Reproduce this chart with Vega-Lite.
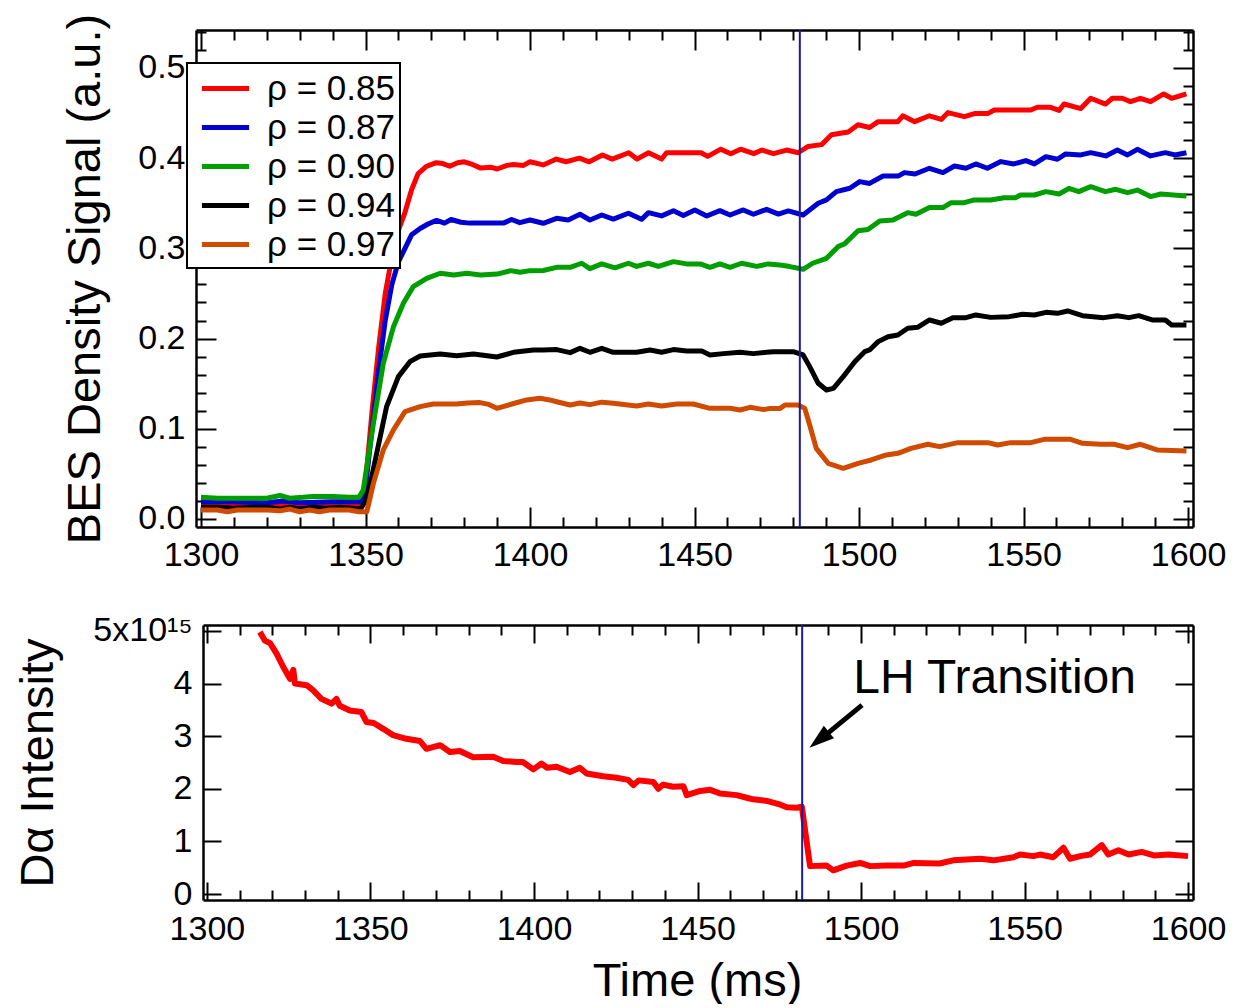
{
"$schema": "https://vega.github.io/schema/vega-lite/v6.json",
"padding": {"left": 14, "top": 13, "right": 10, "bottom": 0},
"spacing": 31,
"config": {
  "font": "Liberation Sans",
  "view": {"stroke": null},
  "axis": {"domainColor": "#000", "domainWidth": 2.5, "tickColor": "#000", "tickWidth": 2, "labelFont": "Liberation Sans", "labelFontSize": 34, "labelColor": "#000", "titleFont": "Liberation Sans", "titleFontSize": 47, "titleFontWeight": "normal", "titleColor": "#000", "grid": false, "labelFlush": false, "labelOverlap": false, "labelBound": false},
  "legend": {"labelFont": "Liberation Sans"}
},
"datasets": {
  "bes": [
    {"t":1300,"v":0.016,"rho":"ρ = 0.85"},{"t":1305,"v":0.015,"rho":"ρ = 0.85"},{"t":1310,"v":0.016,"rho":"ρ = 0.85"},{"t":1315,"v":0.015,"rho":"ρ = 0.85"},{"t":1320,"v":0.014,"rho":"ρ = 0.85"},{"t":1325,"v":0.017,"rho":"ρ = 0.85"},{"t":1330,"v":0.015,"rho":"ρ = 0.85"},{"t":1335,"v":0.016,"rho":"ρ = 0.85"},{"t":1340,"v":0.016,"rho":"ρ = 0.85"},{"t":1345,"v":0.015,"rho":"ρ = 0.85"},{"t":1348.5,"v":0.016,"rho":"ρ = 0.85"},{"t":1350,"v":0.04,"rho":"ρ = 0.85"},{"t":1352,"v":0.12,"rho":"ρ = 0.85"},{"t":1354,"v":0.19,"rho":"ρ = 0.85"},{"t":1356,"v":0.25,"rho":"ρ = 0.85"},{"t":1358,"v":0.29,"rho":"ρ = 0.85"},{"t":1360,"v":0.32,"rho":"ρ = 0.85"},{"t":1362,"v":0.34,"rho":"ρ = 0.85"},{"t":1364,"v":0.365,"rho":"ρ = 0.85"},{"t":1366,"v":0.383,"rho":"ρ = 0.85"},{"t":1368.5,"v":0.391,"rho":"ρ = 0.85"},{"t":1371.5,"v":0.395,"rho":"ρ = 0.85"},{"t":1373.5,"v":0.394,"rho":"ρ = 0.85"},{"t":1375.6,"v":0.391,"rho":"ρ = 0.85"},{"t":1378,"v":0.395,"rho":"ρ = 0.85"},{"t":1380,"v":0.396,"rho":"ρ = 0.85"},{"t":1382.5,"v":0.393,"rho":"ρ = 0.85"},{"t":1385,"v":0.389,"rho":"ρ = 0.85"},{"t":1388,"v":0.39,"rho":"ρ = 0.85"},{"t":1390,"v":0.388,"rho":"ρ = 0.85"},{"t":1393,"v":0.392,"rho":"ρ = 0.85"},{"t":1395,"v":0.393,"rho":"ρ = 0.85"},{"t":1398,"v":0.392,"rho":"ρ = 0.85"},{"t":1400,"v":0.396,"rho":"ρ = 0.85"},{"t":1404,"v":0.3925,"rho":"ρ = 0.85"},{"t":1408,"v":0.399,"rho":"ρ = 0.85"},{"t":1411,"v":0.396,"rho":"ρ = 0.85"},{"t":1415,"v":0.4,"rho":"ρ = 0.85"},{"t":1418,"v":0.396,"rho":"ρ = 0.85"},{"t":1422,"v":0.4035,"rho":"ρ = 0.85"},{"t":1425,"v":0.399,"rho":"ρ = 0.85"},{"t":1430,"v":0.406,"rho":"ρ = 0.85"},{"t":1432.5,"v":0.399,"rho":"ρ = 0.85"},{"t":1436,"v":0.406,"rho":"ρ = 0.85"},{"t":1440,"v":0.399,"rho":"ρ = 0.85"},{"t":1441.5,"v":0.406,"rho":"ρ = 0.85"},{"t":1452,"v":0.406,"rho":"ρ = 0.85"},{"t":1454,"v":0.402,"rho":"ρ = 0.85"},{"t":1458,"v":0.41,"rho":"ρ = 0.85"},{"t":1461,"v":0.405,"rho":"ρ = 0.85"},{"t":1464,"v":0.41,"rho":"ρ = 0.85"},{"t":1468,"v":0.405,"rho":"ρ = 0.85"},{"t":1470.5,"v":0.409,"rho":"ρ = 0.85"},{"t":1474,"v":0.405,"rho":"ρ = 0.85"},{"t":1478,"v":0.409,"rho":"ρ = 0.85"},{"t":1481.5,"v":0.406,"rho":"ρ = 0.85"},{"t":1484.5,"v":0.413,"rho":"ρ = 0.85"},{"t":1488.6,"v":0.415,"rho":"ρ = 0.85"},{"t":1491.6,"v":0.426,"rho":"ρ = 0.85"},{"t":1496.7,"v":0.429,"rho":"ρ = 0.85"},{"t":1499.7,"v":0.437,"rho":"ρ = 0.85"},{"t":1503.2,"v":0.434,"rho":"ρ = 0.85"},{"t":1505.8,"v":0.4405,"rho":"ρ = 0.85"},{"t":1511.8,"v":0.4405,"rho":"ρ = 0.85"},{"t":1513.3,"v":0.447,"rho":"ρ = 0.85"},{"t":1516.9,"v":0.4405,"rho":"ρ = 0.85"},{"t":1521.4,"v":0.447,"rho":"ρ = 0.85"},{"t":1525,"v":0.443,"rho":"ρ = 0.85"},{"t":1527,"v":0.4505,"rho":"ρ = 0.85"},{"t":1532,"v":0.446,"rho":"ρ = 0.85"},{"t":1535.1,"v":0.4494,"rho":"ρ = 0.85"},{"t":1539.1,"v":0.4494,"rho":"ρ = 0.85"},{"t":1541.1,"v":0.4534,"rho":"ρ = 0.85"},{"t":1552.2,"v":0.4534,"rho":"ρ = 0.85"},{"t":1554.2,"v":0.4564,"rho":"ρ = 0.85"},{"t":1558.2,"v":0.4564,"rho":"ρ = 0.85"},{"t":1560.8,"v":0.453,"rho":"ρ = 0.85"},{"t":1562.3,"v":0.4601,"rho":"ρ = 0.85"},{"t":1567.4,"v":0.455,"rho":"ρ = 0.85"},{"t":1570.4,"v":0.4664,"rho":"ρ = 0.85"},{"t":1574.9,"v":0.46,"rho":"ρ = 0.85"},{"t":1577,"v":0.4664,"rho":"ρ = 0.85"},{"t":1580,"v":0.4664,"rho":"ρ = 0.85"},{"t":1582.5,"v":0.4627,"rho":"ρ = 0.85"},{"t":1585.5,"v":0.4664,"rho":"ρ = 0.85"},{"t":1588.6,"v":0.4627,"rho":"ρ = 0.85"},{"t":1592.6,"v":0.4712,"rho":"ρ = 0.85"},{"t":1595,"v":0.4664,"rho":"ρ = 0.85"},{"t":1599.5,"v":0.4712,"rho":"ρ = 0.85"},

    {"t":1300,"v":0.019,"rho":"ρ = 0.87"},{"t":1310,"v":0.019,"rho":"ρ = 0.87"},{"t":1320,"v":0.018,"rho":"ρ = 0.87"},{"t":1325,"v":0.02,"rho":"ρ = 0.87"},{"t":1330,"v":0.018,"rho":"ρ = 0.87"},{"t":1340,"v":0.019,"rho":"ρ = 0.87"},{"t":1348.5,"v":0.019,"rho":"ρ = 0.87"},{"t":1350,"v":0.035,"rho":"ρ = 0.87"},{"t":1352,"v":0.1,"rho":"ρ = 0.87"},{"t":1354,"v":0.165,"rho":"ρ = 0.87"},{"t":1356,"v":0.22,"rho":"ρ = 0.87"},{"t":1358,"v":0.26,"rho":"ρ = 0.87"},{"t":1360,"v":0.285,"rho":"ρ = 0.87"},{"t":1362,"v":0.3,"rho":"ρ = 0.87"},{"t":1364,"v":0.315,"rho":"ρ = 0.87"},{"t":1366.6,"v":0.322,"rho":"ρ = 0.87"},{"t":1369,"v":0.327,"rho":"ρ = 0.87"},{"t":1371.6,"v":0.331,"rho":"ρ = 0.87"},{"t":1374,"v":0.328,"rho":"ρ = 0.87"},{"t":1376,"v":0.332,"rho":"ρ = 0.87"},{"t":1379,"v":0.329,"rho":"ρ = 0.87"},{"t":1381.7,"v":0.328,"rho":"ρ = 0.87"},{"t":1386,"v":0.328,"rho":"ρ = 0.87"},{"t":1391.9,"v":0.328,"rho":"ρ = 0.87"},{"t":1394.4,"v":0.332,"rho":"ρ = 0.87"},{"t":1396.9,"v":0.3285,"rho":"ρ = 0.87"},{"t":1400,"v":0.3315,"rho":"ρ = 0.87"},{"t":1404,"v":0.3278,"rho":"ρ = 0.87"},{"t":1408.1,"v":0.3333,"rho":"ρ = 0.87"},{"t":1411.6,"v":0.3315,"rho":"ρ = 0.87"},{"t":1415.2,"v":0.3378,"rho":"ρ = 0.87"},{"t":1418.2,"v":0.3315,"rho":"ρ = 0.87"},{"t":1421.8,"v":0.337,"rho":"ρ = 0.87"},{"t":1425.3,"v":0.3325,"rho":"ρ = 0.87"},{"t":1429.9,"v":0.3389,"rho":"ρ = 0.87"},{"t":1433.9,"v":0.3322,"rho":"ρ = 0.87"},{"t":1436,"v":0.3396,"rho":"ρ = 0.87"},{"t":1440,"v":0.336,"rho":"ρ = 0.87"},{"t":1443.6,"v":0.3418,"rho":"ρ = 0.87"},{"t":1446.6,"v":0.3365,"rho":"ρ = 0.87"},{"t":1450.1,"v":0.3426,"rho":"ρ = 0.87"},{"t":1453.7,"v":0.3359,"rho":"ρ = 0.87"},{"t":1457.7,"v":0.3418,"rho":"ρ = 0.87"},{"t":1460.8,"v":0.337,"rho":"ρ = 0.87"},{"t":1464.8,"v":0.3426,"rho":"ρ = 0.87"},{"t":1467.9,"v":0.3378,"rho":"ρ = 0.87"},{"t":1471.9,"v":0.3433,"rho":"ρ = 0.87"},{"t":1475.5,"v":0.338,"rho":"ρ = 0.87"},{"t":1478.5,"v":0.3415,"rho":"ρ = 0.87"},{"t":1483,"v":0.337,"rho":"ρ = 0.87"},{"t":1487.6,"v":0.35,"rho":"ρ = 0.87"},{"t":1490.1,"v":0.3537,"rho":"ρ = 0.87"},{"t":1493.1,"v":0.3629,"rho":"ρ = 0.87"},{"t":1497.2,"v":0.3666,"rho":"ρ = 0.87"},{"t":1500.2,"v":0.374,"rho":"ρ = 0.87"},{"t":1503.2,"v":0.372,"rho":"ρ = 0.87"},{"t":1507.3,"v":0.3803,"rho":"ρ = 0.87"},{"t":1512,"v":0.3803,"rho":"ρ = 0.87"},{"t":1513.8,"v":0.384,"rho":"ρ = 0.87"},{"t":1517,"v":0.3825,"rho":"ρ = 0.87"},{"t":1521.4,"v":0.3888,"rho":"ρ = 0.87"},{"t":1525.5,"v":0.384,"rho":"ρ = 0.87"},{"t":1529,"v":0.3913,"rho":"ρ = 0.87"},{"t":1532.5,"v":0.3888,"rho":"ρ = 0.87"},{"t":1535.5,"v":0.3936,"rho":"ρ = 0.87"},{"t":1539,"v":0.3888,"rho":"ρ = 0.87"},{"t":1543.1,"v":0.3962,"rho":"ρ = 0.87"},{"t":1547,"v":0.3936,"rho":"ρ = 0.87"},{"t":1550.7,"v":0.3973,"rho":"ρ = 0.87"},{"t":1553.3,"v":0.3936,"rho":"ρ = 0.87"},{"t":1556.8,"v":0.4017,"rho":"ρ = 0.87"},{"t":1560.3,"v":0.3988,"rho":"ρ = 0.87"},{"t":1562.8,"v":0.4047,"rho":"ρ = 0.87"},{"t":1567.4,"v":0.4036,"rho":"ρ = 0.87"},{"t":1570.4,"v":0.4061,"rho":"ρ = 0.87"},{"t":1575,"v":0.4025,"rho":"ρ = 0.87"},{"t":1578.5,"v":0.4091,"rho":"ρ = 0.87"},{"t":1581.6,"v":0.4036,"rho":"ρ = 0.87"},{"t":1584.6,"v":0.4098,"rho":"ρ = 0.87"},{"t":1588.6,"v":0.4025,"rho":"ρ = 0.87"},{"t":1593.1,"v":0.4061,"rho":"ρ = 0.87"},{"t":1596,"v":0.4036,"rho":"ρ = 0.87"},{"t":1599.5,"v":0.4061,"rho":"ρ = 0.87"},

    {"t":1300,"v":0.024,"rho":"ρ = 0.90"},{"t":1305,"v":0.023,"rho":"ρ = 0.90"},{"t":1310,"v":0.023,"rho":"ρ = 0.90"},{"t":1315,"v":0.023,"rho":"ρ = 0.90"},{"t":1320,"v":0.023,"rho":"ρ = 0.90"},{"t":1324,"v":0.026,"rho":"ρ = 0.90"},{"t":1327,"v":0.023,"rho":"ρ = 0.90"},{"t":1331,"v":0.024,"rho":"ρ = 0.90"},{"t":1334,"v":0.025,"rho":"ρ = 0.90"},{"t":1340,"v":0.025,"rho":"ρ = 0.90"},{"t":1345,"v":0.024,"rho":"ρ = 0.90"},{"t":1348,"v":0.024,"rho":"ρ = 0.90"},{"t":1349.3,"v":0.032,"rho":"ρ = 0.90"},{"t":1352.4,"v":0.106,"rho":"ρ = 0.90"},{"t":1355.4,"v":0.1726,"rho":"ρ = 0.90"},{"t":1358.5,"v":0.2132,"rho":"ρ = 0.90"},{"t":1361.5,"v":0.2391,"rho":"ρ = 0.90"},{"t":1364.5,"v":0.2576,"rho":"ρ = 0.90"},{"t":1368.6,"v":0.2668,"rho":"ρ = 0.90"},{"t":1372.7,"v":0.2724,"rho":"ρ = 0.90"},{"t":1376.8,"v":0.2705,"rho":"ρ = 0.90"},{"t":1380.8,"v":0.2724,"rho":"ρ = 0.90"},{"t":1384.9,"v":0.2705,"rho":"ρ = 0.90"},{"t":1390,"v":0.2715,"rho":"ρ = 0.90"},{"t":1394.1,"v":0.2753,"rho":"ρ = 0.90"},{"t":1397,"v":0.2735,"rho":"ρ = 0.90"},{"t":1400,"v":0.2753,"rho":"ρ = 0.90"},{"t":1404,"v":0.2755,"rho":"ρ = 0.90"},{"t":1408.1,"v":0.279,"rho":"ρ = 0.90"},{"t":1412.2,"v":0.279,"rho":"ρ = 0.90"},{"t":1415.7,"v":0.2835,"rho":"ρ = 0.90"},{"t":1418.2,"v":0.2775,"rho":"ρ = 0.90"},{"t":1421.8,"v":0.2828,"rho":"ρ = 0.90"},{"t":1425.8,"v":0.2784,"rho":"ρ = 0.90"},{"t":1429.9,"v":0.2835,"rho":"ρ = 0.90"},{"t":1432.4,"v":0.28,"rho":"ρ = 0.90"},{"t":1436,"v":0.2835,"rho":"ρ = 0.90"},{"t":1439,"v":0.28,"rho":"ρ = 0.90"},{"t":1443.6,"v":0.2853,"rho":"ρ = 0.90"},{"t":1447.6,"v":0.2828,"rho":"ρ = 0.90"},{"t":1451.7,"v":0.2828,"rho":"ρ = 0.90"},{"t":1454.7,"v":0.279,"rho":"ρ = 0.90"},{"t":1457.7,"v":0.2828,"rho":"ρ = 0.90"},{"t":1460.8,"v":0.279,"rho":"ρ = 0.90"},{"t":1464.3,"v":0.2835,"rho":"ρ = 0.90"},{"t":1468.9,"v":0.28,"rho":"ρ = 0.90"},{"t":1472.4,"v":0.2828,"rho":"ρ = 0.90"},{"t":1476,"v":0.2815,"rho":"ρ = 0.90"},{"t":1479,"v":0.2798,"rho":"ρ = 0.90"},{"t":1483,"v":0.2768,"rho":"ρ = 0.90"},{"t":1485.9,"v":0.2835,"rho":"ρ = 0.90"},{"t":1490.1,"v":0.289,"rho":"ρ = 0.90"},{"t":1493.6,"v":0.3019,"rho":"ρ = 0.90"},{"t":1495.6,"v":0.305,"rho":"ρ = 0.90"},{"t":1499.7,"v":0.3196,"rho":"ρ = 0.90"},{"t":1502.7,"v":0.321,"rho":"ρ = 0.90"},{"t":1506.3,"v":0.3304,"rho":"ρ = 0.90"},{"t":1510.3,"v":0.3315,"rho":"ρ = 0.90"},{"t":1514.8,"v":0.3396,"rho":"ρ = 0.90"},{"t":1517.3,"v":0.3378,"rho":"ρ = 0.90"},{"t":1521.4,"v":0.3452,"rho":"ρ = 0.90"},{"t":1525.5,"v":0.3452,"rho":"ρ = 0.90"},{"t":1528,"v":0.3507,"rho":"ρ = 0.90"},{"t":1532,"v":0.3507,"rho":"ρ = 0.90"},{"t":1535,"v":0.3537,"rho":"ρ = 0.90"},{"t":1540,"v":0.3537,"rho":"ρ = 0.90"},{"t":1544.1,"v":0.3562,"rho":"ρ = 0.90"},{"t":1547.5,"v":0.3562,"rho":"ρ = 0.90"},{"t":1549.1,"v":0.3592,"rho":"ρ = 0.90"},{"t":1553.3,"v":0.3592,"rho":"ρ = 0.90"},{"t":1556.8,"v":0.3629,"rho":"ρ = 0.90"},{"t":1560.8,"v":0.3603,"rho":"ρ = 0.90"},{"t":1563.8,"v":0.3666,"rho":"ρ = 0.90"},{"t":1566.8,"v":0.3629,"rho":"ρ = 0.90"},{"t":1570.4,"v":0.3684,"rho":"ρ = 0.90"},{"t":1574.9,"v":0.3629,"rho":"ρ = 0.90"},{"t":1578,"v":0.3655,"rho":"ρ = 0.90"},{"t":1581.6,"v":0.3618,"rho":"ρ = 0.90"},{"t":1584.6,"v":0.3646,"rho":"ρ = 0.90"},{"t":1588.6,"v":0.3574,"rho":"ρ = 0.90"},{"t":1591.7,"v":0.3603,"rho":"ρ = 0.90"},{"t":1599.5,"v":0.358,"rho":"ρ = 0.90"},

    {"t":1300,"v":0.013,"rho":"ρ = 0.94"},{"t":1305,"v":0.013,"rho":"ρ = 0.94"},{"t":1310,"v":0.012,"rho":"ρ = 0.94"},{"t":1315,"v":0.013,"rho":"ρ = 0.94"},{"t":1320,"v":0.013,"rho":"ρ = 0.94"},{"t":1324,"v":0.011,"rho":"ρ = 0.94"},{"t":1327,"v":0.013,"rho":"ρ = 0.94"},{"t":1330,"v":0.011,"rho":"ρ = 0.94"},{"t":1334,"v":0.013,"rho":"ρ = 0.94"},{"t":1338,"v":0.012,"rho":"ρ = 0.94"},{"t":1342,"v":0.013,"rho":"ρ = 0.94"},{"t":1346,"v":0.012,"rho":"ρ = 0.94"},{"t":1348.5,"v":0.011,"rho":"ρ = 0.94"},{"t":1350,"v":0.02,"rho":"ρ = 0.94"},{"t":1351.5,"v":0.04,"rho":"ρ = 0.94"},{"t":1353.4,"v":0.0728,"rho":"ρ = 0.94"},{"t":1356.4,"v":0.1245,"rho":"ρ = 0.94"},{"t":1360,"v":0.1578,"rho":"ρ = 0.94"},{"t":1363.5,"v":0.1744,"rho":"ρ = 0.94"},{"t":1366.6,"v":0.1807,"rho":"ρ = 0.94"},{"t":1372.7,"v":0.1829,"rho":"ρ = 0.94"},{"t":1377.7,"v":0.181,"rho":"ρ = 0.94"},{"t":1382.8,"v":0.1829,"rho":"ρ = 0.94"},{"t":1387,"v":0.181,"rho":"ρ = 0.94"},{"t":1389.9,"v":0.1796,"rho":"ρ = 0.94"},{"t":1395,"v":0.1848,"rho":"ρ = 0.94"},{"t":1401,"v":0.1874,"rho":"ρ = 0.94"},{"t":1404,"v":0.1874,"rho":"ρ = 0.94"},{"t":1408.1,"v":0.1878,"rho":"ρ = 0.94"},{"t":1412.2,"v":0.1844,"rho":"ρ = 0.94"},{"t":1415.2,"v":0.1892,"rho":"ρ = 0.94"},{"t":1418.2,"v":0.1848,"rho":"ρ = 0.94"},{"t":1421.8,"v":0.1892,"rho":"ρ = 0.94"},{"t":1425.3,"v":0.1848,"rho":"ρ = 0.94"},{"t":1432.4,"v":0.1848,"rho":"ρ = 0.94"},{"t":1436.5,"v":0.1874,"rho":"ρ = 0.94"},{"t":1440,"v":0.1848,"rho":"ρ = 0.94"},{"t":1443.6,"v":0.1878,"rho":"ρ = 0.94"},{"t":1447.6,"v":0.1862,"rho":"ρ = 0.94"},{"t":1452.2,"v":0.1862,"rho":"ρ = 0.94"},{"t":1454.7,"v":0.1818,"rho":"ρ = 0.94"},{"t":1458.8,"v":0.1833,"rho":"ρ = 0.94"},{"t":1463.8,"v":0.1848,"rho":"ρ = 0.94"},{"t":1467.9,"v":0.1833,"rho":"ρ = 0.94"},{"t":1471.9,"v":0.1848,"rho":"ρ = 0.94"},{"t":1474,"v":0.1855,"rho":"ρ = 0.94"},{"t":1480,"v":0.1855,"rho":"ρ = 0.94"},{"t":1483,"v":0.1818,"rho":"ρ = 0.94"},{"t":1485,"v":0.1689,"rho":"ρ = 0.94"},{"t":1487.6,"v":0.1504,"rho":"ρ = 0.94"},{"t":1490.1,"v":0.143,"rho":"ρ = 0.94"},{"t":1492.2,"v":0.1448,"rho":"ρ = 0.94"},{"t":1495.2,"v":0.1578,"rho":"ρ = 0.94"},{"t":1498.7,"v":0.1744,"rho":"ρ = 0.94"},{"t":1501.7,"v":0.1855,"rho":"ρ = 0.94"},{"t":1503.2,"v":0.1874,"rho":"ρ = 0.94"},{"t":1505.8,"v":0.1966,"rho":"ρ = 0.94"},{"t":1508.8,"v":0.2021,"rho":"ρ = 0.94"},{"t":1511.8,"v":0.204,"rho":"ρ = 0.94"},{"t":1514.8,"v":0.2114,"rho":"ρ = 0.94"},{"t":1517.8,"v":0.2125,"rho":"ρ = 0.94"},{"t":1521.4,"v":0.2206,"rho":"ρ = 0.94"},{"t":1525,"v":0.217,"rho":"ρ = 0.94"},{"t":1528.5,"v":0.2232,"rho":"ρ = 0.94"},{"t":1532.5,"v":0.2232,"rho":"ρ = 0.94"},{"t":1535.5,"v":0.2262,"rho":"ρ = 0.94"},{"t":1540,"v":0.2235,"rho":"ρ = 0.94"},{"t":1545.6,"v":0.2243,"rho":"ρ = 0.94"},{"t":1549.7,"v":0.2269,"rho":"ρ = 0.94"},{"t":1553.3,"v":0.2262,"rho":"ρ = 0.94"},{"t":1556.8,"v":0.2291,"rho":"ρ = 0.94"},{"t":1560.3,"v":0.228,"rho":"ρ = 0.94"},{"t":1563.4,"v":0.2306,"rho":"ρ = 0.94"},{"t":1567.9,"v":0.2254,"rho":"ρ = 0.94"},{"t":1574.4,"v":0.2232,"rho":"ρ = 0.94"},{"t":1578.5,"v":0.2254,"rho":"ρ = 0.94"},{"t":1582,"v":0.2232,"rho":"ρ = 0.94"},{"t":1585,"v":0.2254,"rho":"ρ = 0.94"},{"t":1589.1,"v":0.2206,"rho":"ρ = 0.94"},{"t":1593.1,"v":0.2206,"rho":"ρ = 0.94"},{"t":1595,"v":0.2151,"rho":"ρ = 0.94"},{"t":1599.5,"v":0.2151,"rho":"ρ = 0.94"},

    {"t":1300,"v":0.01,"rho":"ρ = 0.97"},{"t":1305,"v":0.01,"rho":"ρ = 0.97"},{"t":1308,"v":0.008,"rho":"ρ = 0.97"},{"t":1311,"v":0.01,"rho":"ρ = 0.97"},{"t":1315,"v":0.01,"rho":"ρ = 0.97"},{"t":1320,"v":0.01,"rho":"ρ = 0.97"},{"t":1324,"v":0.009,"rho":"ρ = 0.97"},{"t":1327,"v":0.011,"rho":"ρ = 0.97"},{"t":1330,"v":0.008,"rho":"ρ = 0.97"},{"t":1333,"v":0.01,"rho":"ρ = 0.97"},{"t":1336,"v":0.008,"rho":"ρ = 0.97"},{"t":1339,"v":0.01,"rho":"ρ = 0.97"},{"t":1342,"v":0.01,"rho":"ρ = 0.97"},{"t":1345,"v":0.01,"rho":"ρ = 0.97"},{"t":1348,"v":0.008,"rho":"ρ = 0.97"},{"t":1350.4,"v":0.008,"rho":"ρ = 0.97"},{"t":1352.4,"v":0.0395,"rho":"ρ = 0.97"},{"t":1355.4,"v":0.0765,"rho":"ρ = 0.97"},{"t":1358.5,"v":0.0987,"rho":"ρ = 0.97"},{"t":1362,"v":0.119,"rho":"ρ = 0.97"},{"t":1366.6,"v":0.1245,"rho":"ρ = 0.97"},{"t":1370.6,"v":0.1275,"rho":"ρ = 0.97"},{"t":1377.7,"v":0.1275,"rho":"ρ = 0.97"},{"t":1381,"v":0.1285,"rho":"ρ = 0.97"},{"t":1384.8,"v":0.129,"rho":"ρ = 0.97"},{"t":1387.5,"v":0.127,"rho":"ρ = 0.97"},{"t":1389.9,"v":0.1227,"rho":"ρ = 0.97"},{"t":1395,"v":0.128,"rho":"ρ = 0.97"},{"t":1399,"v":0.132,"rho":"ρ = 0.97"},{"t":1403,"v":0.1338,"rho":"ρ = 0.97"},{"t":1406,"v":0.132,"rho":"ρ = 0.97"},{"t":1408.1,"v":0.13,"rho":"ρ = 0.97"},{"t":1412.2,"v":0.1264,"rho":"ρ = 0.97"},{"t":1415.2,"v":0.1285,"rho":"ρ = 0.97"},{"t":1418.2,"v":0.1268,"rho":"ρ = 0.97"},{"t":1421.8,"v":0.1295,"rho":"ρ = 0.97"},{"t":1425.3,"v":0.1283,"rho":"ρ = 0.97"},{"t":1432.4,"v":0.1253,"rho":"ρ = 0.97"},{"t":1436,"v":0.1275,"rho":"ρ = 0.97"},{"t":1440,"v":0.1253,"rho":"ρ = 0.97"},{"t":1444.6,"v":0.1275,"rho":"ρ = 0.97"},{"t":1449.6,"v":0.1275,"rho":"ρ = 0.97"},{"t":1454.7,"v":0.1227,"rho":"ρ = 0.97"},{"t":1460.8,"v":0.1227,"rho":"ρ = 0.97"},{"t":1463.8,"v":0.1208,"rho":"ρ = 0.97"},{"t":1466.9,"v":0.1238,"rho":"ρ = 0.97"},{"t":1471,"v":0.1212,"rho":"ρ = 0.97"},{"t":1473,"v":0.1226,"rho":"ρ = 0.97"},{"t":1476,"v":0.1226,"rho":"ρ = 0.97"},{"t":1477.5,"v":0.1264,"rho":"ρ = 0.97"},{"t":1481.5,"v":0.1264,"rho":"ρ = 0.97"},{"t":1483.5,"v":0.1226,"rho":"ρ = 0.97"},{"t":1485,"v":0.1042,"rho":"ρ = 0.97"},{"t":1487,"v":0.0783,"rho":"ρ = 0.97"},{"t":1490.6,"v":0.0617,"rho":"ρ = 0.97"},{"t":1495.2,"v":0.0562,"rho":"ρ = 0.97"},{"t":1499.7,"v":0.0617,"rho":"ρ = 0.97"},{"t":1503.7,"v":0.0654,"rho":"ρ = 0.97"},{"t":1508.3,"v":0.071,"rho":"ρ = 0.97"},{"t":1511.8,"v":0.0728,"rho":"ρ = 0.97"},{"t":1515.8,"v":0.0783,"rho":"ρ = 0.97"},{"t":1520.9,"v":0.0828,"rho":"ρ = 0.97"},{"t":1524.5,"v":0.0802,"rho":"ρ = 0.97"},{"t":1530,"v":0.0846,"rho":"ρ = 0.97"},{"t":1539.1,"v":0.0846,"rho":"ρ = 0.97"},{"t":1542.1,"v":0.082,"rho":"ρ = 0.97"},{"t":1546.1,"v":0.0846,"rho":"ρ = 0.97"},{"t":1552.2,"v":0.0846,"rho":"ρ = 0.97"},{"t":1556.3,"v":0.0883,"rho":"ρ = 0.97"},{"t":1564.3,"v":0.0883,"rho":"ρ = 0.97"},{"t":1567.9,"v":0.0839,"rho":"ρ = 0.97"},{"t":1573.4,"v":0.0828,"rho":"ρ = 0.97"},{"t":1577.5,"v":0.0828,"rho":"ρ = 0.97"},{"t":1581.6,"v":0.0791,"rho":"ρ = 0.97"},{"t":1585.5,"v":0.0828,"rho":"ρ = 0.97"},{"t":1590.6,"v":0.0765,"rho":"ρ = 0.97"},{"t":1599.5,"v":0.0754,"rho":"ρ = 0.97"}
  ],
  "da": [
    {"t":1316.2,"v":4.98},{"t":1317.7,"v":4.82},{"t":1319.3,"v":4.77},{"t":1321.3,"v":4.57},{"t":1323.3,"v":4.32},{"t":1325.4,"v":4.09},{"t":1326.4,"v":4.26},{"t":1326.9,"v":4.0},{"t":1330.5,"v":3.97},{"t":1332.5,"v":3.87},{"t":1335,"v":3.71},{"t":1338.1,"v":3.62},{"t":1339.6,"v":3.71},{"t":1340.6,"v":3.58},{"t":1343.7,"v":3.49},{"t":1347.2,"v":3.46},{"t":1348.8,"v":3.27},{"t":1351,"v":3.25},{"t":1353.9,"v":3.14},{"t":1356.9,"v":3.02},{"t":1361,"v":2.95},{"t":1365.1,"v":2.91},{"t":1367.1,"v":2.76},{"t":1371.3,"v":2.83},{"t":1374.3,"v":2.7},{"t":1377.3,"v":2.72},{"t":1381.4,"v":2.6},{"t":1387.5,"v":2.61},{"t":1390.6,"v":2.53},{"t":1394.6,"v":2.51},{"t":1396.6,"v":2.51},{"t":1399.8,"v":2.37},{"t":1402.3,"v":2.48},{"t":1404,"v":2.4},{"t":1406.9,"v":2.42},{"t":1411,"v":2.32},{"t":1414,"v":2.4},{"t":1416.1,"v":2.29},{"t":1421.2,"v":2.24},{"t":1425.2,"v":2.21},{"t":1428.8,"v":2.17},{"t":1430.4,"v":2.07},{"t":1432,"v":2.16},{"t":1436.5,"v":2.13},{"t":1438,"v":2.0},{"t":1439.5,"v":2.08},{"t":1442.5,"v":2.04},{"t":1445.7,"v":2.05},{"t":1446.7,"v":1.88},{"t":1450.8,"v":1.96},{"t":1453.9,"v":1.98},{"t":1456.9,"v":1.91},{"t":1462,"v":1.88},{"t":1465,"v":1.83},{"t":1467,"v":1.8},{"t":1471.2,"v":1.77},{"t":1474.8,"v":1.71},{"t":1477.3,"v":1.65},{"t":1480.4,"v":1.64},{"t":1481.9,"v":1.66},{"t":1484.4,"v":0.53},{"t":1489.5,"v":0.54},{"t":1491.5,"v":0.45},{"t":1495.6,"v":0.54},{"t":1499.7,"v":0.59},{"t":1502.8,"v":0.53},{"t":1507.9,"v":0.54},{"t":1513,"v":0.54},{"t":1516.1,"v":0.59},{"t":1524,"v":0.58},{"t":1528.2,"v":0.64},{"t":1536.4,"v":0.67},{"t":1540.5,"v":0.64},{"t":1546.6,"v":0.7},{"t":1548.6,"v":0.75},{"t":1552.7,"v":0.72},{"t":1554.7,"v":0.75},{"t":1558.8,"v":0.7},{"t":1561.9,"v":0.88},{"t":1563.9,"v":0.67},{"t":1567,"v":0.72},{"t":1570,"v":0.75},{"t":1573.6,"v":0.93},{"t":1575.6,"v":0.75},{"t":1578.7,"v":0.83},{"t":1581.8,"v":0.75},{"t":1585.8,"v":0.8},{"t":1589.8,"v":0.73},{"t":1593.9,"v":0.75},{"t":1600,"v":0.72}
  ],
  "lh": [{"t": 1482}],
  "label": [{"text": "LH Transition", "t": 1497.6, "v": 4.08}],
  "arrow": [{"t": 1500.3, "v": 3.59, "t2": 1489.5, "v2": 3.04}],
  "head": [{"t": 1487.2, "v": 2.93}]
},
"vconcat": [
  {
    "width": 997,
    "height": 497,
    "resolve": {"axis": {"x": "independent", "y": "independent"}},
    "layer": [
      {
        "data": {"name": "bes"},
        "mark": {"type": "line", "strokeWidth": 5, "strokeJoin": "round"},
        "encoding": {
          "x": {"field": "t", "type": "quantitative", "scale": {"domain": [1298.48, 1601.5], "nice": false, "zero": false},
                "axis": {"orient": "bottom", "title": null, "values": [1300,1310,1320,1330,1340,1350,1360,1370,1380,1390,1400,1410,1420,1430,1440,1450,1460,1470,1480,1490,1500,1510,1520,1530,1540,1550,1560,1570,1580,1590,1600], "format": "d", "labelExpr": "datum.value % 50 === 0 ? datum.label : ''", "tickSize": {"condition": {"test": "datum.value % 50 === 0", "value": -20}, "value": -10}, "labelPadding": 31}},
          "y": {"field": "v", "type": "quantitative", "scale": {"domain": [-0.0089, 0.5421], "nice": false, "zero": false},
                "axis": {"orient": "left", "title": "BES Density Signal (a.u.)", "titleX": -111, "titleY": 248.5, "titleBaseline": "middle", "values": [0,0.02,0.04,0.06,0.08,0.1,0.12,0.14,0.16,0.18,0.2,0.22,0.24,0.26,0.28,0.3,0.32,0.34,0.36,0.38,0.4,0.42,0.44,0.46,0.48,0.5,0.52,0.54], "labelExpr": "abs(datum.value*10 - round(datum.value*10)) < 0.000001 ? format(datum.value, '.1f') : ''", "tickSize": {"condition": {"test": "abs(datum.value*10 - round(datum.value*10)) < 0.000001", "value": -20}, "value": -10}, "labelPadding": 31}},
          "color": {"field": "rho", "type": "nominal",
                    "scale": {"domain": ["ρ = 0.85", "ρ = 0.87", "ρ = 0.90", "ρ = 0.94", "ρ = 0.97"], "range": ["#ff0000", "#0000d0", "#009e00", "#000000", "#d04a00"]},
                    "legend": {"title": null, "orient": "none", "legendX": -9, "legendY": 33, "fillColor": "white", "strokeColor": "black", "padding": 5, "symbolType": "M-1.31,0L1.31,0", "symbolStrokeWidth": 5, "symbolSize": 1296, "symbolOffset": 13, "labelFontSize": 35, "labelColor": "black", "labelOffset": 21, "rowPadding": 0,
                               "encode": {"legend": {"update": {"strokeWidth": {"value": 2}}}}}}
        }
      },
      {
        "data": {"name": "bes"},
        "mark": {"type": "point", "opacity": 0},
        "encoding": {
          "x": {"field": "t", "type": "quantitative", "axis": {"orient": "top", "title": null, "labels": false, "values": [1300,1310,1320,1330,1340,1350,1360,1370,1380,1390,1400,1410,1420,1430,1440,1450,1460,1470,1480,1490,1500,1510,1520,1530,1540,1550,1560,1570,1580,1590,1600], "tickSize": {"condition": {"test": "datum.value % 50 === 0", "value": -20}, "value": -10}}},
          "y": {"field": "v", "type": "quantitative", "axis": {"orient": "right", "title": null, "labels": false, "values": [0,0.02,0.04,0.06,0.08,0.1,0.12,0.14,0.16,0.18,0.2,0.22,0.24,0.26,0.28,0.3,0.32,0.34,0.36,0.38,0.4,0.42,0.44,0.46,0.48,0.5,0.52,0.54], "tickSize": {"condition": {"test": "abs(datum.value*10 - round(datum.value*10)) < 0.000001", "value": -20}, "value": -10}}}
        }
      },
      {
        "data": {"name": "lh"},
        "mark": {"type": "rule", "color": "#1a1aa0", "strokeWidth": 2},
        "encoding": {"x": {"field": "t", "type": "quantitative", "axis": null}}
      }
    ]
  },
  {
    "width": 997,
    "height": 275,
    "resolve": {"axis": {"x": "independent", "y": "independent"}},
    "layer": [
      {
        "data": {"name": "da"},
        "mark": {"type": "line", "strokeWidth": 6, "color": "#ff0000", "strokeJoin": "round"},
        "encoding": {
          "x": {"field": "t", "type": "quantitative", "scale": {"domain": [1298.8, 1601.5], "range": [7, 997], "nice": false, "zero": false},
                "axis": {"orient": "bottom", "title": "Time (ms)", "titleX": 501, "titleY": 81, "titleBaseline": "middle", "values": [1300,1310,1320,1330,1340,1350,1360,1370,1380,1390,1400,1410,1420,1430,1440,1450,1460,1470,1480,1490,1500,1510,1520,1530,1540,1550,1560,1570,1580,1590,1600], "format": "d", "labelExpr": "datum.value % 50 === 0 ? datum.label : ''", "tickSize": {"condition": {"test": "datum.value % 50 === 0", "value": -18}, "value": -10}, "labelPadding": 30}},
          "y": {"field": "v", "type": "quantitative", "scale": {"domain": [-0.114, 5.114], "nice": false, "zero": false},
                "axis": {"orient": "left", "offset": -7, "title": "Dα Intensity", "titleX": -165, "titleY": 137.5, "titleBaseline": "middle", "values": [0,1,2,3,4,5], "labelExpr": "datum.value === 5 ? '5x10¹⁵' : datum.label", "tickSize": -18, "labelPadding": 29}}
        }
      },
      {
        "data": {"name": "da"},
        "mark": {"type": "point", "opacity": 0},
        "encoding": {
          "x": {"field": "t", "type": "quantitative", "axis": {"orient": "top", "title": null, "labels": false, "values": [1300,1310,1320,1330,1340,1350,1360,1370,1380,1390,1400,1410,1420,1430,1440,1450,1460,1470,1480,1490,1500,1510,1520,1530,1540,1550,1560,1570,1580,1590,1600], "tickSize": {"condition": {"test": "datum.value % 50 === 0", "value": -18}, "value": -10}}},
          "y": {"field": "v", "type": "quantitative", "axis": {"orient": "right", "title": null, "labels": false, "values": [0,1,2,3,4,5], "tickSize": -18}}
        }
      },
      {
        "data": {"name": "lh"},
        "mark": {"type": "rule", "color": "#1a1aa0", "strokeWidth": 2},
        "encoding": {"x": {"field": "t", "type": "quantitative", "axis": null}}
      },
      {
        "data": {"name": "label"},
        "mark": {"type": "text", "align": "left", "baseline": "middle", "fontSize": 48, "font": "Liberation Sans", "color": "black"},
        "encoding": {
          "x": {"field": "t", "type": "quantitative", "axis": null},
          "y": {"field": "v", "type": "quantitative", "axis": null},
          "text": {"field": "text"}
        }
      },
      {
        "data": {"name": "arrow"},
        "mark": {"type": "rule", "color": "black", "strokeWidth": 5},
        "encoding": {
          "x": {"field": "t", "type": "quantitative", "axis": null},
          "y": {"field": "v", "type": "quantitative", "axis": null},
          "x2": {"field": "t2"},
          "y2": {"field": "v2"}
        }
      },
      {
        "data": {"name": "head"},
        "mark": {"type": "point", "shape": "M0,-1L0.65,1L-0.65,1Z", "size": 625, "angle": 231, "filled": true, "color": "black", "opacity": 1},
        "encoding": {
          "x": {"field": "t", "type": "quantitative", "axis": null},
          "y": {"field": "v", "type": "quantitative", "axis": null}
        }
      }
    ]
  }
]
}
